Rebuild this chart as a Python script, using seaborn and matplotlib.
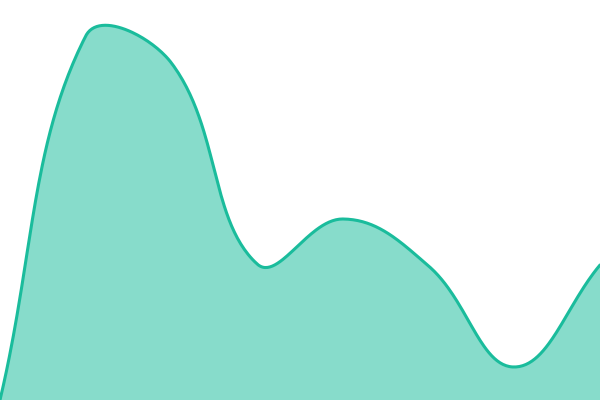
import matplotlib
matplotlib.use('Agg')
import matplotlib.pyplot as plt
import seaborn as sns
import numpy as np
import pandas as pd

# data points (one per step, evenly spaced along x)
steps = [0, 1, 2, 3, 4, 5, 6, 7]
values = [0, 364, 337, 136, 181, 134, 33, 135]

line_color = '#1abc9c'
W, H = 600, 400
ymax = 400


# chart.js style spline: control points weighted by segment lengths (in pixels)
def smooth(xs, ys, tension=0.4, n=60):
    px = np.array(xs, float) * W / (len(xs) - 1)
    py = np.array(ys, float) * H / ymax
    cp_prev = []
    cp_next = []
    for i in range(len(px)):
        p0 = (px[max(i - 1, 0)], py[max(i - 1, 0)])
        p2 = (px[min(i + 1, len(px) - 1)], py[min(i + 1, len(px) - 1)])
        d01 = np.hypot(px[i] - p0[0], py[i] - p0[1])
        d12 = np.hypot(p2[0] - px[i], p2[1] - py[i])
        tot = d01 + d12
        fa = tension * d01 / tot if tot else 0
        fb = tension * d12 / tot if tot else 0
        cp_prev.append((px[i] - fa * (p2[0] - p0[0]), py[i] - fa * (p2[1] - p0[1])))
        cp_next.append((px[i] + fb * (p2[0] - p0[0]), py[i] + fb * (p2[1] - p0[1])))
    out_x, out_y = [], []
    t = np.linspace(0, 1, n)
    for i in range(len(px) - 1):
        a = np.array([px[i], py[i]])
        b = np.array(cp_next[i])
        c = np.array(cp_prev[i + 1])
        d = np.array([px[i + 1], py[i + 1]])
        seg = ((1 - t) ** 3)[:, None] * a + (3 * (1 - t) ** 2 * t)[:, None] * b \
            + (3 * (1 - t) * t ** 2)[:, None] * c + (t ** 3)[:, None] * d
        out_x.extend(seg[:, 0])
        out_y.extend(seg[:, 1])
    out_x = np.array(out_x) * (len(xs) - 1) / W
    out_y = np.array(out_y) * ymax / H
    return out_x, out_y


sx, sy = smooth(steps, values)
curve = pd.DataFrame({'x': sx, 'y': sy})

sns.set_theme(style='white')
fig = plt.figure(figsize=(6, 4), dpi=100)
ax = fig.add_axes([0, 0, 1, 1])
ax.fill_between(curve['x'], curve['y'], 0, color=line_color, alpha=0.52, linewidth=0)
sns.lineplot(data=curve, x='x', y='y', sort=False, color=line_color, linewidth=2.2, ax=ax)
ax.set_xlim(0, len(steps) - 1)
ax.set_ylim(0, ymax)
ax.axis('off')
fig.savefig('out.png', dpi=100)
